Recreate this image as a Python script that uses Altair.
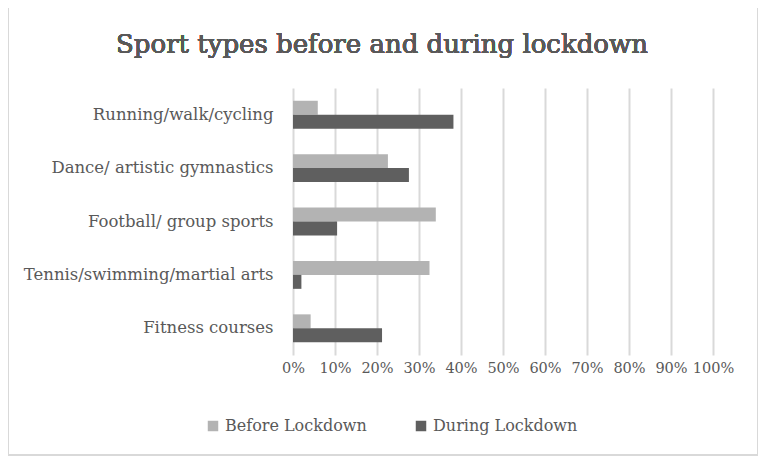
import altair as alt
import pandas as pd

categories = [
    "Running/walk/cycling",
    "Dance/ artistic gymnastics",
    "Football/ group sports",
    "Tennis/swimming/martial arts",
    "Fitness courses",
]
series = ["Before Lockdown", "During Lockdown"]
before = [0.059, 0.226, 0.340, 0.325, 0.042]
during = [0.382, 0.276, 0.105, 0.020, 0.212]
colors = ["#b3b3b3", "#5f5f5f"]
title_text = "Sport types before and during lockdown"

rows = []
for c, b, d in zip(categories, before, during):
    rows.append({"category": c, "series": series[0], "value": b})
    rows.append({"category": c, "series": series[1], "value": d})
df = pd.DataFrame(rows)

FONT = "DejaVu Serif"
TXT = "#595959"

bars = alt.Chart(df).mark_bar().encode(
    y=alt.Y("category:N", sort=categories,
            scale=alt.Scale(paddingInner=0.478, paddingOuter=0.239),
            axis=alt.Axis(title=None, domain=False, ticks=False, labelPadding=20,
                          labelFont=FONT, labelFontSize=16.5, labelColor=TXT, grid=False,
                          labelLimit=400)),
    yOffset=alt.YOffset("series:N", sort=series),
    x=alt.X("value:Q", scale=alt.Scale(domain=[0, 1], nice=False),
            axis=alt.Axis(title=None, format=".0%", values=[i / 10 for i in range(11)],
                          domain=False, ticks=False, labelPadding=6,
                          labelOverlap=False, labelBound=False, labelFlush=False,
                          labelFont=FONT, labelFontSize=14.5, labelColor=TXT,
                          grid=True, gridColor="#d9d9d9", gridWidth=2)),
    color=alt.Color("series:N", sort=series,
                    scale=alt.Scale(domain=series, range=colors),
                    legend=alt.Legend(title=None, orient="none", direction="horizontal",
                                      legendX=-88, legendY=330,
                                      symbolType="square", symbolSize=110,
                                      symbolStrokeWidth=0,
                                      labelFont=FONT, labelFontSize=16, labelColor=TXT,
                                      columnPadding=46, labelOffset=4)),
)

frame = alt.Chart(df).mark_rect(fill=None, stroke="#d9d9d9", strokeWidth=1.5).encode(
    x=alt.value(-285), x2=alt.value(465), y=alt.value(-82), y2=alt.value(367)
)

title = alt.Chart(df).mark_text(font=FONT, fontSize=26, color=TXT, align="center",
                                baseline="alphabetic").encode(
    x=alt.value(89), y=alt.value(-35), text=alt.value(title_text)
)

chart = alt.layer(frame, bars, title).properties(
    width=420,
    height=267,
    autosize=alt.AutoSizeParams(type="none"),
    padding={"left": 285, "top": 80, "right": 45, "bottom": 103},
).configure_view(stroke=None)

chart.save("out.html", embed_options={"renderer": "svg", "actions": False})
